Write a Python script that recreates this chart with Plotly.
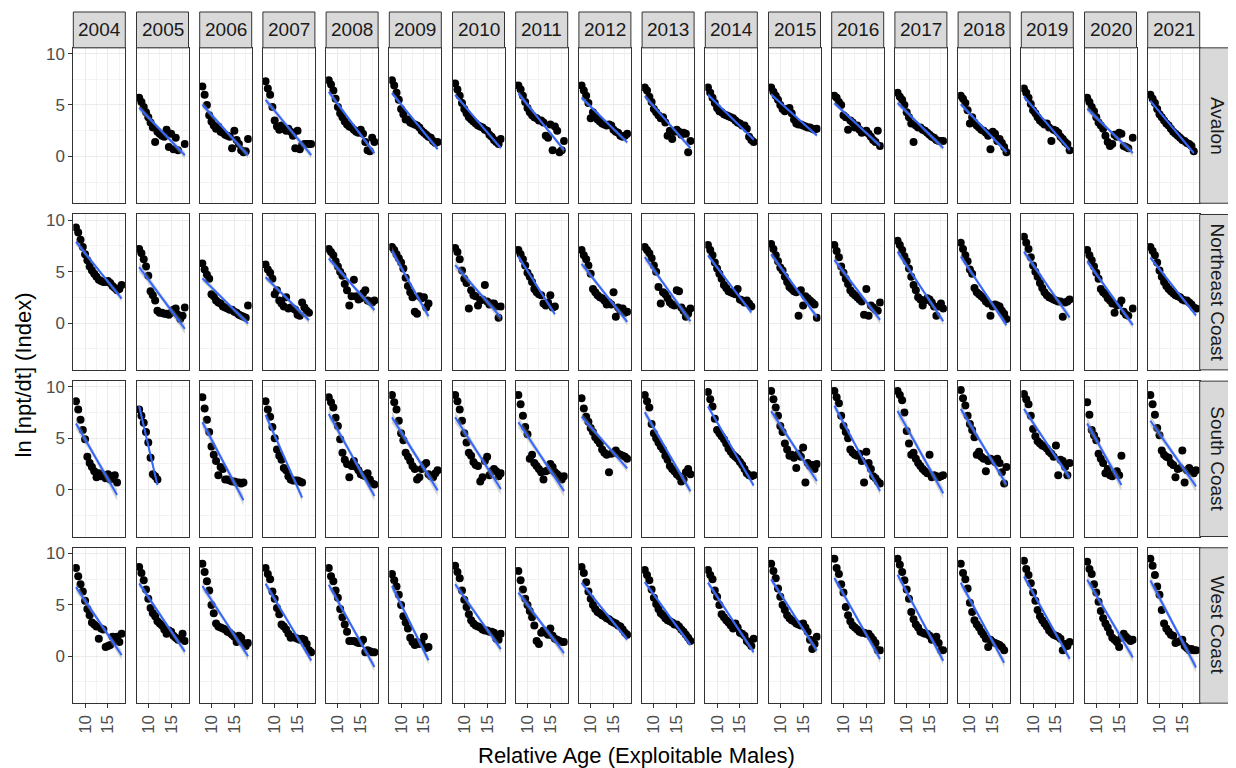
import numpy as np
import plotly.graph_objects as go

years = ["2004", "2005", "2006", "2007", "2008", "2009", "2010", "2011", "2012",
         "2013", "2014", "2015", "2016", "2017", "2018", "2019", "2020", "2021"]
regions = ["Avalon", "Northeast Coast", "South Coast", "West Coast"]
ages = [8.0, 8.5, 9.0, 9.5, 10.0, 10.5, 11.0, 11.5, 12.0, 12.5, 13.0,
        13.5, 14.0, 14.5, 15.0, 15.5, 16.0, 16.5, 17.0, 17.5, 18.0]
x_ticks = [10, 15]
y_ticks = [0, 5, 10]
N = None

avalon = [
    [],
    [5.7, 5.3, 4.8, 4.3, 3.8, 3.3, 2.8, 1.4, 2.4, 2.2, 2.0, 1.9, 2.6, 0.9, 2.2, 0.7, 1.8, 0.6, N, N, 1.2],
    [6.8, 6.0, 5.0, 4.0, 3.4, 3.0, 2.7, 2.9, 2.4, 2.3, 2.1, 2.0, 1.9, 0.8, 2.5, 1.6, 1.2, 0.6, 0.4, 0.5, 1.7],
    [7.3, 6.6, 6.0, 4.8, 3.5, 2.9, 2.6, 3.0, 2.7, 2.5, 2.7, 2.4, 2.0, 0.8, 2.5, 0.7, 1.1, 1.2, 1.2, 1.2, 1.2],
    [7.4, 7.0, 6.4, 5.6, 4.8, 4.2, 3.8, 3.4, 3.1, 2.9, 2.8, 2.6, 2.4, 2.3, 2.6, 2.2, 1.4, 0.6, 0.5, 1.8, 1.4],
    [7.4, 6.9, 6.2, 5.5, 4.6, 4.1, 3.6, 3.6, 3.3, 3.2, 3.1, 3.0, 2.8, 2.5, 2.3, 2.1, 1.9, 1.8, 1.5, 1.3, 1.4],
    [7.1, 6.5, 5.9, 5.2, 4.6, 4.2, 3.8, 3.6, 3.4, 3.2, 3.0, 2.9, 2.8, 2.6, 2.5, 2.1, 1.9, 1.6, 1.4, 1.2, 1.7],
    [6.9, 6.5, 5.9, 5.3, 4.7, 4.3, 4.0, 3.8, 3.7, 3.5, 3.5, 3.3, 2.0, 1.8, 3.1, 0.6, 2.9, 2.5, 0.4, 0.6, 1.5],
    [6.9, 6.4, 5.9, 5.2, 3.7, 4.3, 4.0, 3.6, 3.4, 3.2, 3.1, 3.0, 3.1, 3.0, 2.6, 2.4, 2.3, 2.0, 1.9, 2.0, 2.2],
    [6.7, 6.4, 5.8, 5.3, 4.6, 4.3, 4.0, 3.7, 3.8, 3.3, 2.0, 2.5, 1.7, 2.4, 2.6, 2.4, 2.1, 2.3, 2.2, 0.4, 1.5],
    [6.7, 6.2, 5.7, 5.2, 4.7, 4.4, 4.3, 4.1, 4.0, 3.9, 3.8, 3.7, 3.5, 3.3, 3.2, 3.0, 3.0, 2.7, 1.9, 1.6, 1.4],
    [6.7, 6.3, 5.9, 5.5, 5.0, 4.6, 4.4, 4.6, 4.7, 4.2, 3.6, 3.2, 3.1, 3.1, 3.0, 2.9, 2.8, 2.8, 2.7, 2.6, 2.7],
    [5.9, 5.7, 5.3, 5.0, 4.0, 3.8, 2.6, 3.5, 3.3, 2.8, 3.0, 2.6, 2.3, 2.4, 2.5, 2.2, 1.9, 1.6, 1.4, 2.5, 1.0],
    [6.2, 5.8, 5.5, 5.0, 4.3, 3.8, 3.2, 1.4, 3.0, 2.8, 2.8, 2.6, 2.5, 2.3, 2.1, 1.9, 1.8, 1.6, 1.5, 1.5, 1.5],
    [5.9, 5.6, 5.2, 4.5, 3.2, 3.8, 3.3, 3.0, 2.8, 2.6, 2.5, 2.3, 2.0, 0.7, 2.4, 2.2, 1.5, 1.7, 1.3, 0.9, 0.4],
    [6.6, 6.2, 5.7, 5.1, 4.5, 4.2, 3.8, 3.5, 3.3, 3.1, 3.2, 2.8, 1.5, 2.6, 2.5, 2.3, 1.9, 1.7, 1.4, 1.2, 0.6],
    [5.7, 5.3, 4.8, 4.4, 3.8, 3.3, 3.0, 2.7, 2.0, 1.4, 1.0, 1.2, 2.1, 1.9, 2.3, 2.2, 1.0, 0.9, 0.8, N, 1.8],
    [6.0, 5.6, 5.2, 4.6, 4.1, 3.8, 3.5, 3.2, 3.0, 2.7, 2.4, 2.2, 2.0, 1.8, 1.6, 1.5, 1.3, 1.2, 1.0, 0.5, N],
]

northeast = [
    [9.3, 8.8, 8.1, 7.4, 6.7, 6.1, 5.5, 5.1, 4.8, 4.5, 4.2, 4.1, 4.0, 4.0, 4.1, 3.9, 3.6, 3.4, 3.2, 3.3, 3.7],
    [7.2, 6.8, 6.2, 5.5, 4.6, 3.1, 2.7, 2.2, 1.2, 1.0, 1.0, 0.9, 0.9, 0.8, 1.0, 1.3, 1.4, 0.8, 0.4, 0.7, 1.5],
    [5.8, 5.2, 4.7, 4.3, 2.8, 2.6, 2.2, 2.0, 1.9, 1.6, 1.5, 1.4, 1.3, 1.3, 1.1, 1.0, 0.8, 0.7, 0.6, 0.5, 1.7],
    [5.7, 5.2, 4.9, 4.3, 2.8, 3.2, 2.2, 1.9, 1.6, 2.5, 1.4, 1.5, 1.4, 1.3, 0.8, 0.7, 2.0, 1.5, 1.2, 1.0, N],
    [7.2, 6.9, 6.6, 6.0, 5.5, 5.0, 4.6, 3.8, 3.2, 1.7, 2.6, 4.2, 2.6, 2.3, 2.4, 2.9, 3.2, 2.2, 2.1, 2.0, 2.2],
    [7.4, 7.1, 6.7, 6.3, 5.9, 5.3, 4.4, 3.6, 3.0, 2.5, 1.1, 0.9, 2.6, 2.4, 2.5, 1.5, 1.9, N, N, N, N],
    [7.3, 6.9, 6.2, 5.1, 4.3, 3.9, 1.4, 3.2, 2.7, 2.6, 1.7, 2.2, 2.3, 3.7, 2.1, 1.8, 1.9, 1.9, 1.6, 0.5, 1.6],
    [7.1, 6.7, 6.2, 5.6, 4.9, 4.5, 4.0, 3.3, 3.0, 2.8, 2.7, 1.9, 1.7, 2.0, 2.7, 1.5, 1.6, N, N, N, N],
    [7.1, 6.6, 6.2, 5.6, 4.8, 3.3, 3.0, 2.7, 2.5, 2.4, 2.2, 1.8, 2.0, 1.8, 3.0, 0.6, 1.5, 1.2, 1.4, 1.0, 1.1],
    [7.4, 7.1, 6.8, 6.3, 5.6, 5.0, 3.5, 1.9, 3.0, 2.8, 2.4, 2.0, 1.8, 1.7, 3.2, 3.1, 1.5, 1.2, 0.6, 0.9, 1.4],
    [7.6, 7.1, 6.6, 5.9, 5.3, 4.8, 4.3, 3.7, 3.4, 3.1, 3.0, 2.9, 2.8, 3.3, 2.3, 2.2, 2.0, 2.2, 1.9, 1.6, N],
    [7.7, 7.2, 6.6, 6.0, 5.4, 5.1, 4.5, 4.0, 3.5, 3.3, 3.1, 3.0, 0.7, 3.2, 1.7, 2.6, 2.4, 2.2, 2.0, 1.8, 0.5],
    [7.6, 7.0, 6.4, 5.5, 4.9, 4.3, 3.8, 3.2, 2.9, 2.7, 2.5, 2.3, 2.1, 0.8, 3.3, 0.7, 1.7, 1.5, 1.3, 1.2, 2.0],
    [8.0, 7.6, 7.1, 6.5, 6.0, 5.3, 4.5, 3.7, 3.2, 2.5, 2.3, 1.7, 2.2, 2.4, 2.3, 2.0, 1.6, 0.7, 1.6, 1.9, 1.4],
    [7.8, 7.2, 6.6, 6.0, 5.2, 4.8, 3.4, 3.0, 2.8, 2.6, 2.4, 2.1, 1.9, 0.7, 1.6, 1.8, 1.7, 1.6, 1.2, 0.9, 0.4],
    [8.4, 7.8, 7.2, 6.4, 5.6, 5.0, 4.5, 3.9, 3.4, 3.0, 2.7, 2.5, 2.4, 2.3, 2.2, 2.1, 2.1, 0.6, 2.0, 2.1, 2.3],
    [7.1, 6.6, 6.1, 5.5, 4.9, 4.3, 3.3, 3.0, 2.8, 2.4, 2.2, 1.9, 1.0, 1.7, 1.8, 2.2, 1.1, 0.8, 0.7, N, 1.4],
    [7.4, 7.0, 6.6, 5.9, 5.1, 4.5, 4.0, 3.6, 3.3, 3.1, 2.9, 2.7, 2.6, 2.5, 2.3, 2.2, 2.2, 2.0, 1.8, 1.5, 1.4],
]

south = [
    [8.6, 7.8, 6.8, 5.8, 4.9, 3.2, 2.6, 2.2, 1.8, 1.2, 1.6, 1.3, 1.4, 1.1, 1.5, 1.0, 1.3, 1.4, 0.7, N, N],
    [7.8, 7.2, 6.5, 5.6, 4.6, 3.1, 1.5, 1.3, 1.0, N, N, N, N, N, N, N, N, N, N, N, N],
    [9.0, 7.9, 6.8, 5.6, 4.2, 3.4, 2.8, 1.4, 2.2, 2.0, 1.0, 1.0, 0.9, 0.8, 0.8, 0.7, 0.7, 0.6, 0.7, N, N],
    [8.6, 7.8, 7.1, 6.1, 5.0, 3.9, 3.3, 2.9, 2.1, 1.9, 1.3, 1.0, 0.9, 0.9, 0.9, 0.8, 0.7, N, N, N, N],
    [9.0, 8.5, 8.0, 7.0, 6.2, 4.9, 3.6, 2.9, 2.5, 1.2, 2.3, 2.8, 2.2, 1.9, 1.5, 1.4, 1.3, 1.6, 1.0, 0.6, 0.5],
    [9.2, 8.5, 7.8, 6.7, 5.5, 4.8, 3.6, 3.2, 2.8, 2.3, 2.0, 1.0, 1.2, 2.0, 2.4, 2.6, 1.5, 1.3, 1.2, 1.6, 1.9],
    [9.2, 8.6, 7.8, 6.7, 5.5, 4.6, 3.6, 3.3, 2.7, 2.4, 2.3, 0.8, 1.2, 2.8, 3.2, 1.4, 1.8, 2.0, 1.8, 1.3, 1.6],
    [9.2, 8.3, 7.2, 6.1, 5.4, 3.0, 3.4, 2.6, 2.3, 2.0, 1.7, 1.0, 1.8, 1.9, 2.5, 2.2, 1.7, 1.5, 1.3, 1.0, 1.3],
    [8.9, 7.9, 7.1, 6.6, 6.0, 5.6, 5.1, 4.8, 4.5, 3.9, 3.6, 3.4, 1.7, 3.5, 3.6, 3.8, 3.5, 3.4, 3.3, 3.2, 3.0],
    [9.2, 8.6, 8.0, 6.4, 5.5, 5.0, 4.6, 4.2, 3.9, 3.3, 2.9, 2.3, 2.0, 1.8, 1.5, 1.3, 0.8, 1.0, 1.7, 2.0, 1.5],
    [9.5, 8.8, 8.1, 6.9, 5.8, 5.5, 5.2, 4.9, 4.5, 4.0, 3.7, 3.4, 3.2, 3.0, 2.7, 2.4, 2.0, 1.6, 1.4, 1.3, 1.4],
    [9.6, 8.8, 8.0, 7.2, 6.2, 5.6, 4.5, 3.9, 3.3, 3.4, 3.1, 2.1, 3.5, 3.2, 4.1, 0.7, 2.6, 2.3, 2.4, 2.0, 2.5],
    [9.6, 9.0, 8.4, 7.2, 6.2, 5.6, 5.0, 3.9, 3.6, 3.4, 3.3, 3.5, 2.8, 0.7, 3.7, 2.6, 2.0, 1.3, 1.1, 0.8, 0.6],
    [9.6, 9.2, 8.7, 7.5, 5.7, 4.5, 3.4, 3.6, 3.0, 2.6, 2.3, 2.0, 1.8, 1.6, 3.4, 1.2, 1.4, 1.3, 1.2, 1.3, 1.4],
    [9.7, 8.9, 8.2, 7.2, 6.4, 5.8, 5.1, 3.4, 3.7, 3.2, 3.0, 1.8, 2.8, 3.0, 2.9, 2.7, 3.0, 2.6, 1.7, 0.6, 2.2],
    [9.3, 8.8, 8.3, 7.2, 5.9, 5.2, 4.7, 4.5, 4.3, 4.2, 4.0, 3.7, 3.5, 3.2, 4.3, 1.4, 2.9, 2.8, 2.2, 1.4, 2.6],
    [8.5, 7.3, 5.8, 5.3, 4.8, 3.5, 3.0, 2.6, 1.6, 2.0, 1.4, 1.3, 1.6, 1.8, 1.4, 3.3, N, N, N, N, N],
    [9.2, 8.3, 7.3, 6.0, 5.3, 3.8, 3.4, 3.2, 3.1, 2.6, 2.4, 1.2, 2.0, 2.1, 3.8, 0.7, 1.9, 2.1, 1.8, 1.6, 1.9],
]

west = [
    [8.6, 7.8, 7.0, 6.3, 5.4, 4.6, 4.0, 3.3, 3.1, 2.9, 1.7, 2.7, 2.6, 0.9, 1.0, 1.1, 1.9, 1.5, 1.9, 1.4, 2.2],
    [8.7, 8.1, 7.4, 6.5, 5.6, 4.7, 4.2, 3.9, 3.4, 3.2, 3.0, 2.6, 2.2, 2.5, 2.4, 2.0, 1.8, 1.6, 1.7, 2.2, 1.5],
    [9.0, 8.2, 7.3, 6.4, 5.0, 4.2, 3.2, 2.9, 2.8, 2.7, 2.6, 2.4, 2.3, 2.1, 1.9, 1.4, 2.0, 1.8, 1.3, 1.0, 1.3],
    [8.6, 8.0, 7.5, 6.3, 5.6, 4.7, 4.1, 3.1, 2.9, 2.6, 2.2, 1.8, 1.9, 1.8, 1.7, 1.6, 1.7, 1.6, 1.2, 0.6, 0.4],
    [8.6, 7.8, 7.3, 6.4, 5.7, 4.6, 3.8, 3.1, 2.4, 1.5, 1.5, 1.5, 1.4, 1.3, 1.3, 1.6, 0.4, 0.6, 0.5, 0.4, 0.4],
    [8.0, 7.4, 6.8, 6.0, 5.0, 3.9, 3.3, 2.7, 1.8, 1.4, 1.1, 1.4, 1.2, 1.3, 1.9, 0.8, 0.9, N, N, N, N],
    [8.8, 8.2, 7.6, 6.4, 5.5, 4.8, 4.1, 3.5, 3.2, 3.0, 2.9, 2.8, 2.6, 2.5, 2.5, 2.4, 2.4, 2.3, 1.7, 1.6, 2.2],
    [8.3, 7.4, 6.5, 5.6, 5.0, 4.4, 3.8, 3.0, 1.5, 1.2, 2.3, 2.5, 2.3, 2.1, 2.7, 2.0, 1.7, 1.6, 1.5, 1.4, 1.4],
    [8.7, 8.1, 7.2, 6.3, 5.6, 5.0, 4.6, 4.3, 4.2, 4.0, 3.9, 3.7, 3.6, 3.4, 3.3, 3.2, 3.0, 2.9, 2.6, 2.3, 2.1],
    [8.4, 7.9, 7.4, 6.5, 5.7, 5.1, 4.6, 4.2, 4.0, 3.7, 3.5, 3.4, 3.3, 3.1, 3.1, 2.9, 2.6, 2.4, 2.1, 1.8, 1.5],
    [8.4, 7.9, 7.5, 6.4, 5.8, 5.0, 4.1, 3.8, 3.5, 3.3, 3.0, 2.7, 3.2, 2.8, 2.3, 2.2, 2.0, 1.5, 1.3, 1.0, 1.7],
    [9.0, 8.3, 7.6, 6.6, 5.8, 5.0, 4.5, 4.0, 3.7, 3.5, 3.4, 3.2, 3.1, 3.0, 3.2, 2.8, 2.4, 1.6, 0.7, 1.2, 1.9],
    [9.5, 8.6, 8.0, 7.0, 6.2, 4.8, 4.0, 3.4, 3.0, 2.8, 2.6, 2.4, 2.3, 2.3, 2.2, 2.2, 1.9, 1.6, 1.3, 0.6, 0.6],
    [9.5, 8.9, 8.2, 7.4, 6.5, 5.6, 4.3, 3.6, 3.1, 2.8, 2.4, 2.3, 2.2, 2.2, 2.0, 1.6, 1.7, 1.9, 1.3, 0.6, 0.6],
    [9.0, 8.1, 7.5, 6.6, 5.2, 4.3, 3.5, 3.1, 2.8, 2.4, 2.1, 1.7, 0.9, 1.6, 1.4, 1.3, 1.2, 1.1, 0.9, 0.6, N],
    [9.3, 8.5, 7.9, 7.1, 6.2, 5.4, 4.5, 3.9, 3.5, 3.2, 2.9, 2.5, 2.3, 2.1, 2.0, 1.9, 1.7, 0.6, 1.2, 1.0, 1.4],
    [9.2, 8.5, 8.0, 7.0, 6.2, 5.3, 4.4, 3.7, 3.2, 2.8, 2.3, 1.8, 1.6, 1.4, 0.9, 1.8, 2.2, 1.9, 1.7, 1.5, 1.6],
    [9.5, 8.8, 7.9, 6.8, 6.0, 4.5, 3.2, 2.7, 2.4, 2.1, 2.0, 1.3, 1.4, 1.5, 1.6, 1.0, 0.8, 0.6, 0.7, 0.6, 0.6],
]

region_data = [avalon, northeast, south, west]

# ---- layout geometry (pixels of the 1236x768 page) ----
OFF = 8                      # default page margin around the plot div
FW, FH = 1236 - OFF, 768 - OFF
COL0, COLP, COLW = 73.3, 63.2, 52.0
ROW0, ROWP, ROWH = 45.0, 167.3, 156.0
STRIP_TOP = 9.0
RSTRIP_W = 35.8
XR = [7.42, 18.8]
YR = [-4.56, 10.56]


def px(x):
    return (x - OFF) / FW


def py(y):
    return 1 - (y - OFF) / FH


FONT = "Liberation Sans, Arial, sans-serif"
GRID = "#EBEBEB"
MINOR = "#F3F3F3"
BORDER = "#333333"
TICK_FONT = dict(family=FONT, size=17, color="#4D4D4D")
STRIP_FONT = dict(family=FONT, size=19, color="#1A1A1A")
TITLE_FONT = dict(family=FONT, size=22, color="black")

fig = go.Figure()
layout = {}
shapes = []
annotations = []

nrow, ncol = len(regions), len(years)

for i in range(nrow):
    for j in range(ncol):
        k = i * ncol + j + 1
        xn = "x" if k == 1 else f"x{k}"
        yn = "y" if k == 1 else f"y{k}"
        x0 = COL0 + j * COLP
        x1 = x0 + COLW
        top = ROW0 + i * ROWP
        bot = top + ROWH
        bottom_row = (i == nrow - 1)
        first_col = (j == 0)
        layout["xaxis" if k == 1 else f"xaxis{k}"] = dict(
            domain=[px(x0), px(x1)], anchor=yn, range=XR,
            tickmode="array", tickvals=x_ticks, ticktext=[str(t) for t in x_ticks],
            showticklabels=bottom_row, ticks="outside" if bottom_row else "",
            ticklen=4, tickwidth=1, tickcolor=BORDER, tickangle=-90,
            tickfont=TICK_FONT,
            showgrid=True, gridcolor=GRID, gridwidth=1,
            minor=dict(tickmode="array", tickvals=[7.5, 12.5, 17.5], showgrid=True,
                       gridcolor=MINOR, gridwidth=0.7, ticks=""),
            showline=True, mirror=True, linecolor=BORDER, linewidth=1,
            zeroline=False, fixedrange=True)
        layout["yaxis" if k == 1 else f"yaxis{k}"] = dict(
            domain=[py(bot), py(top)], anchor=xn, range=YR,
            tickmode="array", tickvals=y_ticks, ticktext=[str(t) for t in y_ticks],
            showticklabels=first_col, ticks="outside" if first_col else "",
            ticklen=4, tickwidth=1, tickcolor=BORDER,
            tickfont=TICK_FONT,
            showgrid=True, gridcolor=GRID, gridwidth=1,
            minor=dict(tickmode="array", tickvals=[-2.5, 2.5, 7.5], showgrid=True,
                       gridcolor=MINOR, gridwidth=0.7, ticks=""),
            showline=True, mirror=True, linecolor=BORDER, linewidth=1,
            zeroline=False, fixedrange=True)

        vals = region_data[i][j]
        pts = [(a, v) for a, v in zip(ages, vals) if v is not None]
        if len(pts) < 3:
            # empty facet: an invisible trace so the panel is still drawn
            fig.add_trace(go.Scatter(x=[None], y=[None], mode="markers",
                                     xaxis=xn, yaxis=yn, showlegend=False,
                                     hoverinfo="skip"))
            continue
        xs = np.array([p[0] for p in pts])
        ys = np.array([p[1] for p in pts])
        fig.add_trace(go.Scatter(x=xs, y=ys, mode="markers", xaxis=xn, yaxis=yn,
                                 marker=dict(size=8, color="black"),
                                 showlegend=False, hoverinfo="skip"))
        # linear fit with confidence band (as geom_smooth(method = "lm"))
        n = len(xs)
        b1, b0 = np.polyfit(xs, ys, 1)
        xf = np.linspace(xs.min(), xs.max(), 40)
        yf = b0 + b1 * xf
        resid = ys - (b0 + b1 * xs)
        s = np.sqrt(np.sum(resid ** 2) / (n - 2))
        sxx = np.sum((xs - xs.mean()) ** 2)
        # the source series is about four times denser than the values read here
        n_eff = 4 * n
        se = s * np.sqrt(1.0 / n_eff + (xf - xs.mean()) ** 2 / (4 * sxx))
        tcrit = 1.96
        up, lo = yf + tcrit * se, yf - tcrit * se
        fig.add_trace(go.Scatter(x=np.concatenate([xf, xf[::-1]]),
                                 y=np.concatenate([up, lo[::-1]]),
                                 xaxis=xn, yaxis=yn, mode="lines", fill="toself",
                                 fillcolor="rgba(153,153,153,0.4)",
                                 line=dict(width=0), showlegend=False, hoverinfo="skip"))
        fig.add_trace(go.Scatter(x=xf, y=yf, xaxis=xn, yaxis=yn, mode="lines",
                                 line=dict(color="#3366FF", width=2),
                                 showlegend=False, hoverinfo="skip"))

# top strips (years)
for j, yr in enumerate(years):
    x0 = COL0 + j * COLP
    x1 = x0 + COLW
    shapes.append(dict(type="rect", xref="paper", yref="paper",
                       x0=px(x0), x1=px(x1), y0=py(ROW0), y1=py(STRIP_TOP),
                       fillcolor="#D9D9D9", line=dict(color=BORDER, width=1)))
    annotations.append(dict(text=yr, xref="paper", yref="paper",
                            x=px((x0 + x1) / 2), y=py((ROW0 + STRIP_TOP) / 2),
                            showarrow=False, xanchor="center", yanchor="middle",
                            font=STRIP_FONT))

# right strips (regions)
rx0 = COL0 + (ncol - 1) * COLP + COLW
rx1 = rx0 + RSTRIP_W
for i, reg in enumerate(regions):
    top = ROW0 + i * ROWP
    bot = top + ROWH
    shapes.append(dict(type="rect", xref="paper", yref="paper",
                       x0=px(rx0), x1=px(rx1), y0=py(bot), y1=py(top),
                       fillcolor="#D9D9D9", line=dict(color=BORDER, width=1)))
    annotations.append(dict(text=reg, xref="paper", yref="paper",
                            x=px((rx0 + rx1) / 2), y=py((top + bot) / 2),
                            showarrow=False, textangle=90, xanchor="center", yanchor="middle",
                            font=STRIP_FONT))

# axis titles
plot_left = COL0
plot_right = COL0 + (ncol - 1) * COLP + COLW
annotations.append(dict(text="Relative Age (Exploitable Males)", xref="paper", yref="paper",
                        x=px((plot_left + plot_right) / 2), y=py(755),
                        showarrow=False, xanchor="center", yanchor="middle",
                        font=TITLE_FONT))
annotations.append(dict(text="ln [npt/dt] (Index)", xref="paper", yref="paper",
                        x=px(24), y=py((ROW0 + 3 * ROWP + ROWH + ROW0) / 2),
                        showarrow=False, textangle=-90, xanchor="center", yanchor="middle",
                        font=TITLE_FONT))

fig.update_layout(width=FW, height=FH, margin=dict(l=0, r=0, t=0, b=0),
                  paper_bgcolor="white", plot_bgcolor="white",
                  shapes=shapes, annotations=annotations, showlegend=False,
                  **layout)

fig.write_html("out.html")
